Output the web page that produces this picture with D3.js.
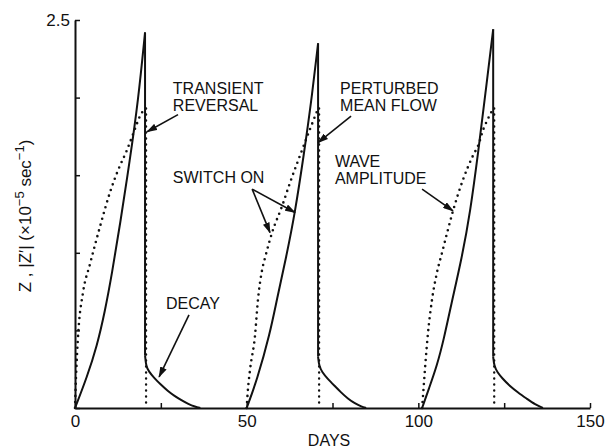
<!DOCTYPE html>
<html>
<head>
<meta charset="utf-8">
<script src="https://cdn.jsdelivr.net/npm/d3@7"></script>
<style>
  body { margin: 0; background: #fff; }
  svg { display: block; }
  text { font-family: "Liberation Sans", Arial, sans-serif; fill: #111; }
</style>
</head>
<body>
<svg id="chart" width="606" height="448"></svg>
<script>
// axis ticks
var xTicks = [0, 25, 50, 75, 100, 125, 150];
var xLabels = [0, 50, 100, 150];
var yTicks = [0, 0.5, 1.0, 1.5, 2.0, 2.5];
var yLabels = [2.5];

// perturbed mean flow (solid), [day, value]
var flowRise1 = [[0, 0], [3.5, 0.2], [6.4, 0.4], [8.7, 0.62], [10.8, 0.87], [13.1, 1.18], [16, 1.6], [18.4, 1.98], [20.4, 2.42]];
var flowRise2 = [[50, 0], [53, 0.18], [56.8, 0.48], [58.8, 0.7], [61.5, 0.97], [64.1, 1.26], [66.7, 1.64], [68.8, 1.97], [70.8, 2.35]];
var flowRise3 = [[101.1, 0], [103, 0.12], [105.4, 0.27], [107.5, 0.45], [109.5, 0.66], [112.7, 0.97], [115.1, 1.26], [117.4, 1.64], [119.5, 2.02], [121.8, 2.44]];

var flowDecay1 = [[20.4, 0.34], [20.7, 0.27], [21.5, 0.235], [23, 0.195], [25, 0.15], [27, 0.11], [29, 0.077], [31, 0.05], [33, 0.025], [35, 0.008], [36.5, 0]];
var flowDecay2 = [[70.8, 0.33], [71.1, 0.27], [72, 0.23], [73.5, 0.19], [75.5, 0.145], [77.5, 0.1], [79.5, 0.06], [81.5, 0.03], [83.5, 0.008], [84.8, 0]];
var flowDecay3 = [[121.8, 0.33], [122.1, 0.27], [123, 0.23], [124.5, 0.19], [126.7, 0.14], [129, 0.1], [131.7, 0.058], [134, 0.022], [136.3, 0]];

// wave amplitude (dotted), [day, value]
var waveRise1 = [[0, 0], [0.3, 0.2], [0.6, 0.35], [1, 0.5], [2.3, 0.74], [4.4, 0.93], [7.3, 1.17], [10.2, 1.39], [12.5, 1.53], [15.1, 1.66], [17.5, 1.8], [18.9, 1.88], [20.4, 1.93]];
var waveRise2 = [[50, 0], [50.3, 0.1], [51, 0.25], [52.4, 0.46], [53.3, 0.7], [54.5, 0.89], [55.5, 0.98], [57.4, 1.13], [60.3, 1.3], [62.6, 1.45], [66.1, 1.66], [68.5, 1.8], [70.8, 1.93]];
var waveRise3 = [[101.1, 0], [101.5, 0.12], [102, 0.27], [102.8, 0.48], [104, 0.7], [105.4, 0.87], [106.9, 1.0], [108.4, 1.13], [110.1, 1.27], [113, 1.47], [116, 1.63], [117.4, 1.69], [119, 1.8], [120, 1.85], [121.8, 1.93]];

var margin = { top: 20, right: 16, bottom: 40, left: 75 },
  width = 606 - margin.left - margin.right,
  height = 448 - margin.top - margin.bottom;

var svg = d3.select("#chart");
var g = svg.append("g").attr("transform", "translate(" + margin.left + "," + margin.top + ")");

var x = d3.scaleLinear().domain([0, 150]).range([0, width]);
var y = d3.scaleLinear().domain([0, 2.5]).range([height, 0]);

svg.append("defs")
  .append("marker")
  .attr("id", "head")
  .attr("markerUnits", "userSpaceOnUse")
  .attr("viewBox", "0 0 11 7")
  .attr("refX", 10)
  .attr("refY", 3.5)
  .attr("markerWidth", 11)
  .attr("markerHeight", 7)
  .attr("orient", "auto")
  .append("path")
  .attr("d", "M0,0 L11,3.5 L0,7 Z")
  .attr("fill", "#111");

// axes
var xAxis = g.append("g")
  .attr("transform", "translate(0," + height + ")")
  .call(d3.axisBottom(x).tickValues(xTicks).tickSizeInner(-5).tickSizeOuter(0).tickPadding(7)
    .tickFormat(function (d) { return xLabels.indexOf(d) >= 0 ? d : ""; }));
var yAxis = g.append("g")
  .call(d3.axisLeft(y).tickValues(yTicks).tickSizeInner(-5).tickSizeOuter(0).tickPadding(5)
    .tickFormat(function (d) { return yLabels.indexOf(d) >= 0 ? d3.format(".1f")(d) : ""; }));

[xAxis, yAxis].forEach(function (a) {
  a.select(".domain").attr("stroke", "#111").attr("stroke-width", 2);
  a.selectAll(".tick line").attr("stroke", "#111").attr("stroke-width", 1.5);
  a.selectAll("text").style("font-family", "Liberation Sans, Arial, sans-serif").style("font-size", "17px").attr("fill", "#111");
});

// curves
var curve = d3.line()
  .x(function (d) { return x(d[0]); })
  .y(function (d) { return y(d[1]); })
  .curve(d3.curveMonotoneX);
var smooth = d3.line()
  .x(function (d) { return x(d[0]); })
  .y(function (d) { return y(d[1]); })
  .curve(d3.curveBasis);
var straight = d3.line()
  .x(function (d) { return x(d[0]); })
  .y(function (d) { return y(d[1]); });

var flowRises = [flowRise1, flowRise2, flowRise3];
var flowDecays = [flowDecay1, flowDecay2, flowDecay3];
var waveRises = [waveRise1, waveRise2, waveRise3];

waveRises.forEach(function (w) {
  var last = w[w.length - 1];
  g.append("path")
    .attr("d", curve(w))
    .attr("fill", "none")
    .attr("stroke", "#111")
    .attr("stroke-width", 2.6)
    .attr("stroke-linecap", "round")
    .attr("stroke-dasharray", "0 6");
  g.append("path")
    .attr("d", straight([[last[0] + 0.3, last[1]], [last[0] + 0.3, 0]]))
    .attr("fill", "none")
    .attr("stroke", "#111")
    .attr("stroke-width", 2.4)
    .attr("stroke-linecap", "round")
    .attr("stroke-dasharray", "0 6");
});

flowRises.forEach(function (r, i) {
  var top = r[r.length - 1];
  var bottom = flowDecays[i][0];
  g.append("path").attr("class", "flow").attr("d", smooth(r));
  g.append("path").attr("class", "flow").attr("d", straight([top, bottom]));
  g.append("path").attr("class", "flow").attr("d", smooth(flowDecays[i]));
});
g.selectAll("path.flow")
  .attr("fill", "none")
  .attr("stroke", "#111")
  .attr("stroke-width", 2)
  .attr("stroke-linejoin", "round");

// annotations
var notes = [
  { lines: ["TRANSIENT", "REVERSAL"], d: 28.5, v: 2.02 },
  { lines: ["PERTURBED", "MEAN FLOW"], d: 77.2, v: 2.02 },
  { lines: ["SWITCH ON"], d: 28.5, v: 1.45 },
  { lines: ["WAVE", "AMPLITUDE"], d: 75.7, v: 1.553 },
  { lines: ["DECAY"], d: 26.5, v: 0.64 }
];
var arrows = [
  [[30, 1.89], [21.0, 1.78]],
  [[80.4, 1.88], [70.8, 1.71]],
  [[51.6, 1.41], [64.1, 1.26]],
  [[51.6, 1.41], [56.8, 1.13]],
  [[101.1, 1.41], [110.1, 1.27]],
  [[33.2, 0.6], [24.5, 0.2]]
];

notes.forEach(function (n) {
  n.lines.forEach(function (s, i) {
    g.append("text")
      .attr("x", x(n.d))
      .attr("y", y(n.v) + i * 17)
      .style("font-size", "16px")
      .text(s);
  });
});

arrows.forEach(function (a) {
  g.append("line")
    .attr("x1", x(a[0][0])).attr("y1", y(a[0][1]))
    .attr("x2", x(a[1][0])).attr("y2", y(a[1][1]))
    .attr("stroke", "#111")
    .attr("stroke-width", 1.6)
    .attr("marker-end", "url(#head)");
});

// axis titles
svg.append("text")
  .attr("x", margin.left + x(74))
  .attr("y", 446)
  .attr("text-anchor", "middle")
  .style("font-size", "16px")
  .text("DAYS");

var yt = svg.append("text")
  .attr("transform", "translate(31,216) rotate(-90)")
  .attr("text-anchor", "middle")
  .style("font-size", "17px");
yt.append("tspan").text("Z , |Z′| (×10");
yt.append("tspan").attr("dy", -7).style("font-size", "13px").text("−5");
yt.append("tspan").attr("dy", 7).text(" sec");
yt.append("tspan").attr("dy", -7).style("font-size", "13px").text("−1");
yt.append("tspan").attr("dy", 7).text(")");
</script>
</body>
</html>
